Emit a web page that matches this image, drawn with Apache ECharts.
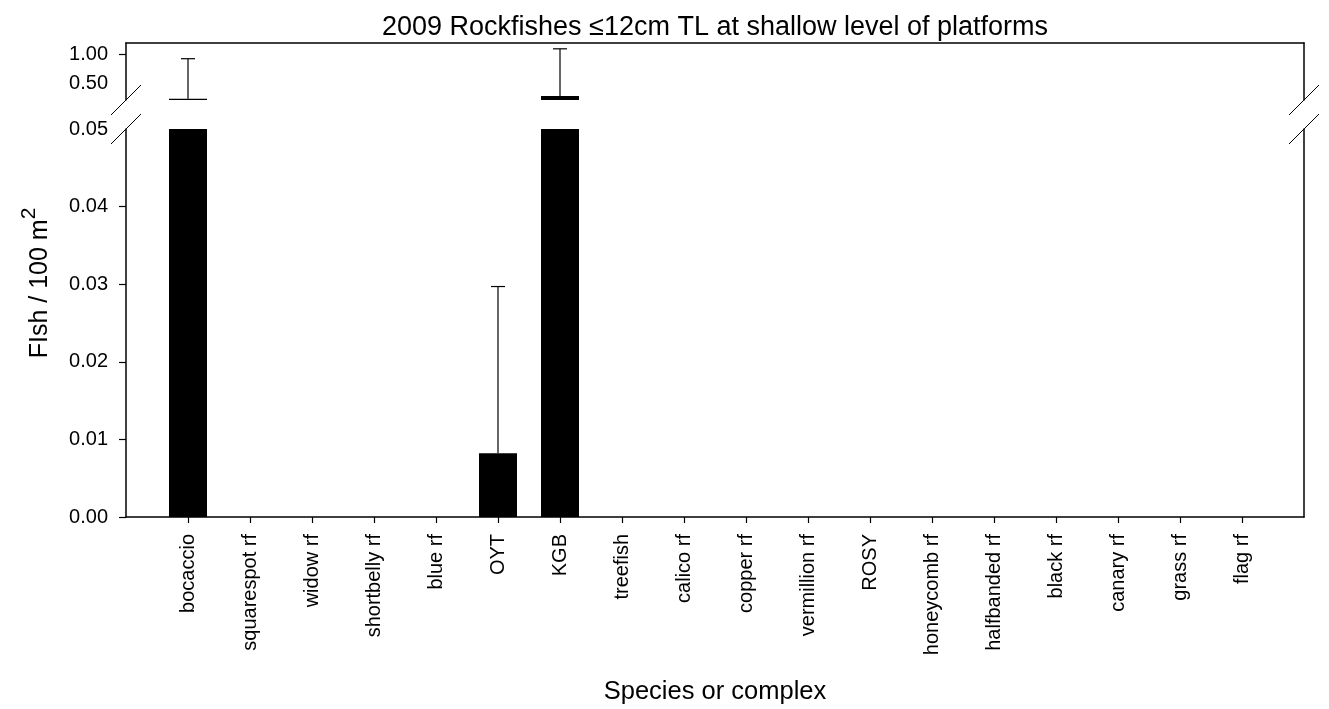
<!DOCTYPE html>
<html>
<head>
<meta charset="utf-8">
<script src="https://cdn.jsdelivr.net/npm/echarts@6/dist/echarts.min.js"></script>
<style>
html,body{margin:0;padding:0;background:#fff;}
#chart{width:1329px;height:709px;}
</style>
</head>
<body>
<div id="chart"></div>
<script>
// ---- data ----
const categories = ['bocaccio','squarespot rf','widow rf','shortbelly rf','blue rf','OYT','KGB','treefish','calico rf','copper rf','vermillion rf','ROSY','honeycomb rf','halfbanded rf','black rf','canary rf','grass rf','flag rf'];
const meanDensity = [0.24, 0, 0, 0, 0, 0.0082, 0.29, 0, 0, 0, 0, 0, 0, 0, 0, 0, 0, 0];
const upperError  = [0.93, 0, 0, 0, 0, 0.0297, 1.10, 0, 0, 0, 0, 0, 0, 0, 0, 0, 0, 0];
const lowerRange = [0, 0.05];
const upperRange = [0.22, 1.2];
const lowerLabelValues = [0, 0.01, 0.02, 0.03, 0.04, 0.05];
const lowerTickValues = [0, 0.01, 0.02, 0.03, 0.04];
const upperLabelValues = [0.5, 1.0];
const upperTickValues = [1.0];

// ---- layout constants ----
const FONT = 'Liberation Sans, Arial, sans-serif';
const GL = 126, GR = 25;
const UP_TOP = 43, UP_H = 57;
const LO_TOP = 129, LO_H = 388;
const W = 1329;

const padCats = [''].concat(categories).concat(['']);
const lowerBars = ['-'].concat(meanDensity.map(v => Math.min(v, lowerRange[1]))).concat(['-']);
const upperBars = ['-'].concat(meanDensity.map(v => v >= upperRange[0] ? v : '-')).concat(['-']);
const lowerErr = [], upperErr = [];
meanDensity.forEach((m, i) => {
  const u = upperError[i];
  if (!(u > m)) return;
  if (m <= lowerRange[1]) lowerErr.push([i + 1, m, Math.min(u, lowerRange[1])]);
  if (m >= upperRange[0]) upperErr.push([i + 1, m, u]);
});

const black = '#000';
const axisLineStyle = {show: true, lineStyle: {color: black, width: 1.5}};
const fmt = v => v.toFixed(2);

function errRender(params, api) {
  const x = api.value(0), m = api.value(1), u = api.value(2);
  const p0 = api.coord([x, m]);
  const p1 = api.coord([x, u]);
  return {
    type: 'group',
    children: [
      {type: 'line', shape: {x1: p0[0], y1: p0[1], x2: p1[0], y2: p1[1]}, style: {stroke: black, lineWidth: 1.2}},
      {type: 'line', shape: {x1: p1[0] - 7, y1: p1[1], x2: p1[0] + 7, y2: p1[1]}, style: {stroke: black, lineWidth: 1.2}}
    ]
  };
}

function breakMark(cx, cy) {
  return {type: 'line', shape: {x1: cx - 15, y1: cy + 15, x2: cx + 15, y2: cy - 15}, style: {stroke: black, lineWidth: 1}, z: 100};
}
const rightX = W - GR;
const upBottom = UP_TOP + UP_H;

const chart = echarts.init(document.getElementById('chart'), null, {renderer: 'canvas'});
chart.setOption({
  animation: false,
  backgroundColor: '#fff',
  textStyle: {fontFamily: FONT, color: black},
  title: {
    text: '2009 Rockfishes \u226412cm TL at shallow level of platforms',
    left: 710, top: 9, textAlign: 'center',
    textStyle: {fontFamily: FONT, fontSize: 27, fontWeight: 'normal', color: black}
  },
  grid: [
    {left: GL, right: GR, top: UP_TOP, height: UP_H, containLabel: false, outerBoundsMode: 'none'},
    {left: GL, right: GR, top: LO_TOP, height: LO_H, containLabel: false, outerBoundsMode: 'none'}
  ],
  xAxis: [
    {gridIndex: 0, type: 'category', data: padCats, boundaryGap: false, position: 'top',
     axisLine: axisLineStyle, axisTick: {show: false}, axisLabel: {show: false}, splitLine: {show: false}},
    {gridIndex: 1, type: 'category', data: padCats, boundaryGap: false, position: 'bottom',
     axisLine: axisLineStyle,
     axisTick: {show: true, length: 6, lineStyle: {color: black, width: 1.2}, interval: (idx) => idx > 0 && idx < padCats.length - 1},
     axisLabel: {rotate: 90, margin: 17, fontSize: 20, color: black, fontFamily: FONT, interval: 0},
     name: 'Species or complex', nameLocation: 'middle', nameGap: 162,
     nameTextStyle: {fontSize: 25.5, color: black, fontFamily: FONT},
     splitLine: {show: false}}
  ],
  yAxis: [
    {gridIndex: 0, type: 'value', position: 'left', min: upperRange[0], max: upperRange[1],
     axisLine: axisLineStyle,
     axisTick: {show: true, length: 7, customValues: upperTickValues, lineStyle: {color: black, width: 1.2}},
     axisLabel: {customValues: upperLabelValues, formatter: fmt, margin: 18, fontSize: 20, color: black, fontFamily: FONT},
     splitLine: {show: false}},
    {gridIndex: 0, type: 'value', position: 'right', min: upperRange[0], max: upperRange[1],
     axisLine: axisLineStyle, axisTick: {show: false}, axisLabel: {show: false}, splitLine: {show: false}},
    {gridIndex: 1, type: 'value', position: 'left', min: lowerRange[0], max: lowerRange[1],
     axisLine: axisLineStyle,
     axisTick: {show: true, length: 7, customValues: lowerTickValues, lineStyle: {color: black, width: 1.2}},
     axisLabel: {customValues: lowerLabelValues, formatter: fmt, margin: 18, fontSize: 20, color: black, fontFamily: FONT},
     splitLine: {show: false}},
    {gridIndex: 1, type: 'value', position: 'right', min: lowerRange[0], max: lowerRange[1],
     axisLine: axisLineStyle, axisTick: {show: false}, axisLabel: {show: false}, splitLine: {show: false}}
  ],
  series: [
    {type: 'bar', xAxisIndex: 1, yAxisIndex: 2, data: lowerBars, barWidth: 38, itemStyle: {color: black}},
    {type: 'bar', xAxisIndex: 0, yAxisIndex: 0, data: upperBars, barWidth: 38, itemStyle: {color: black}},
    {type: 'custom', xAxisIndex: 1, yAxisIndex: 2, data: lowerErr, renderItem: errRender, z: 5},
    {type: 'custom', xAxisIndex: 0, yAxisIndex: 0, data: upperErr, renderItem: errRender, z: 5}
  ],
  graphic: [
    breakMark(GL, upBottom), breakMark(GL, LO_TOP),
    breakMark(rightX, upBottom), breakMark(rightX, LO_TOP),
    {
      type: 'text', x: 36, y: 283, rotation: Math.PI / 2,
      style: {
        text: '{a|FIsh / 100 m}{s|2}',
        align: 'center', verticalAlign: 'middle',
        rich: {
          a: {fontSize: 25, fontFamily: FONT, fill: black, color: black, verticalAlign: 'bottom', lineHeight: 34},
          s: {fontSize: 21, fontFamily: FONT, fill: black, color: black, verticalAlign: 'top', lineHeight: 21}
        }
      }
    }
  ]
});
</script>
</body>
</html>
